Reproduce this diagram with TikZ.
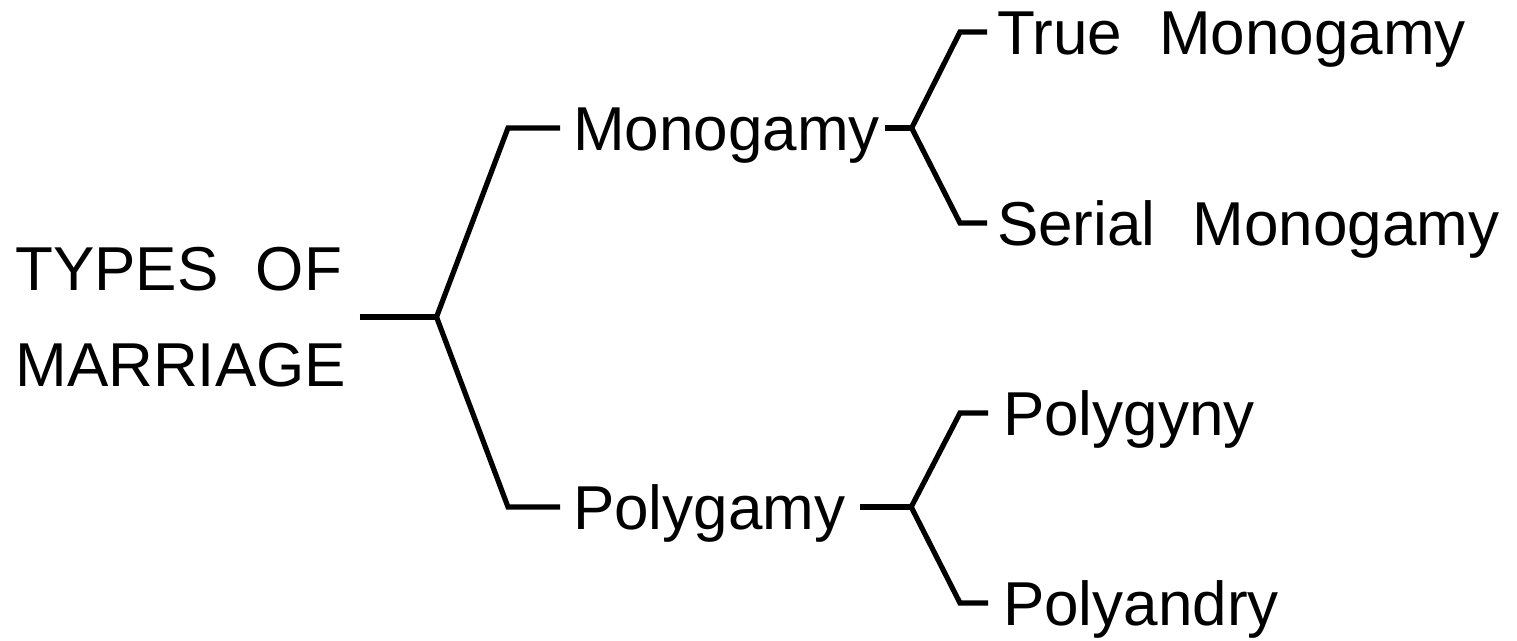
\documentclass[tikz,border=0pt]{standalone}
\usepackage{fontspec}
\setmainfont{Liberation Sans}
\begin{document}
\begin{tikzpicture}[x=0.5pt, y=-0.5pt,
  label/.style={anchor=west, inner sep=0pt, outer sep=0pt, font=\fontsize{31}{37}\selectfont, text height=22.2pt, text depth=0pt},
  branch/.style={line width=2.6pt, line join=miter}]
\useasboundingbox (0,0) rectangle (1517,641);

\node (root) [anchor=west, inner sep=0pt, align=left, font=\fontsize{31}{48}\selectfont] at (15,317) {TYPES\hspace{0.6em}OF\\MARRIAGE};

\node (mono) [label] at (573,128) {Monogamy};
\node (poly) [label] at (573,507) {Polygamy};

\node (mono_true) [label] at (997,32) {True\hspace{0.6em}Monogamy};
\node (mono_serial) [label] at (997,223) {Serial\hspace{0.6em}Monogamy};
\node (poly_gyny) [label] at (1003,413) {Polygyny};
\node (poly_andry) [label] at (1003,603) {Polyandry};

\coordinate (fork_root) at ([xshift=45pt]root.east);
\coordinate (fork_mono) at ([xshift=16pt]mono.east);
\coordinate (fork_poly) at ([xshift=33pt]poly.east);

\draw[branch, shorten <=6.5pt] (root.east) -- (fork_root);
\draw[branch, shorten >=6.5pt] (fork_root) -- ([xshift=-32.5pt]mono.west) -- (mono.west);
\draw[branch, shorten >=6.5pt] (fork_root) -- ([xshift=-32.5pt]poly.west) -- (poly.west);

\draw[branch, shorten <=2.5pt] (mono.east) -- (fork_mono);
\draw[branch, shorten >=5pt] (fork_mono) -- ([xshift=-18.5pt]mono_true.west) -- (mono_true.west);
\draw[branch, shorten >=5pt] (fork_mono) -- ([xshift=-18.5pt]mono_serial.west) -- (mono_serial.west);

\draw[branch, shorten <=7.5pt] (poly.east) -- (fork_poly);
\draw[branch, shorten >=7.5pt] (fork_poly) -- ([xshift=-21.5pt]poly_gyny.west) -- (poly_gyny.west);
\draw[branch, shorten >=7.5pt] (fork_poly) -- ([xshift=-21.5pt]poly_andry.west) -- (poly_andry.west);
\end{tikzpicture}
\end{document}
